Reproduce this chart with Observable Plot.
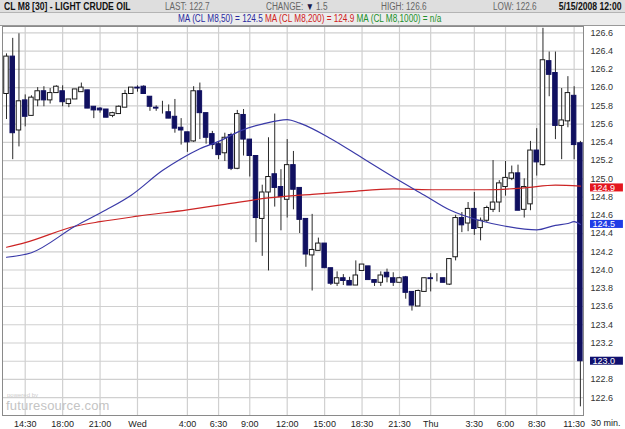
<!DOCTYPE html>
<html><head><meta charset="utf-8">
<script src="https://cdn.jsdelivr.net/npm/d3@7"></script>
<script src="https://cdn.jsdelivr.net/npm/@observablehq/plot@0.6"></script>
<style>
html,body{margin:0;padding:0;background:#fff;}
#wrap{position:relative;width:625px;height:429px;overflow:hidden;font-family:"Liberation Sans",Arial,sans-serif;}
#r1{position:absolute;left:0;top:0;width:625px;height:13px;background:#dedede;border-bottom:1px solid #b4b4b4;box-sizing:border-box;}
#r2{position:absolute;left:0;top:13px;width:625px;height:13px;background:#ececec;border-bottom:1px solid #999;box-sizing:border-box;}
.t{position:absolute;white-space:nowrap;font-size:10px;line-height:12px;display:inline-block;transform:scaleX(0.82);transform-origin:left center;}
.rt{transform-origin:right center;}
.b{font-weight:bold;color:#111;font-size:10.5px;}
.g{color:#666;}
#chart{position:absolute;left:0;top:25px;}
#wm1{position:absolute;left:7px;top:392px;font-size:6px;color:#ccc;}
#wm2{position:absolute;left:6px;top:398px;font-size:13px;color:#c4c4c4;letter-spacing:0.2px;}
#unit{position:absolute;left:591px;top:418px;font-size:9px;line-height:10px;color:#222;}
</style></head>
<body><div id="wrap">
<div id="r1">
 <span class="t b" style="left:4px;top:0px">CL M8 [30] - LIGHT CRUDE OIL</span>
 <span class="t g" style="left:165px;top:1px">LAST: 122.7</span>
 <span class="t g" style="left:266px;top:1px">CHANGE: <span style="color:#1a1a4a">▼</span> 1.5</span>
 <span class="t g" style="left:381px;top:1px">HIGH: 126.6</span>
 <span class="t g" style="left:493px;top:1px">LOW: 122.6</span>
 <span class="t b rt" style="right:4px;top:0px">5/15/2008 12:00</span>
</div>
<div id="r2">
 <span class="t" style="left:178px;top:0px"><span style="color:#2a2aa0">MA (CL M8,50) = 124.5</span> <span style="color:#d02020">MA (CL M8,200) = 124.9</span> <span style="color:#20902a">MA (CL M8,1000) = n/a</span></span>
</div>
<div id="chart"></div>
<div id="wm1">powered by</div>
<div id="wm2">futuresource.com</div>
<div id="unit">30 min.</div>
</div>
<script>
const opens  = [125.93,126.34,125.53,125.86,125.69,125.86,125.96,125.86,125.94,125.96,125.82,125.87,125.95,125.97,125.79,125.77,125.76,125.69,125.71,125.78,125.93,126.00,126.01,125.90,125.78,125.75,125.73,125.68,125.56,125.51,125.41,125.96,125.72,125.49,125.38,125.28,125.48,125.11,125.70,125.43,125.25,124.56,124.85,125.05,124.91,124.77,125.15,124.90,124.56,124.16,124.21,124.29,124.02,123.85,123.91,123.88,123.83,123.99,124.04,123.89,123.86,123.97,123.91,123.86,123.92,123.76,123.60,123.76,123.91,123.91,123.91,123.84,124.14,124.57,124.51,124.67,124.46,124.54,124.66,124.74,124.91,125.00,125.06,124.66,124.72,125.31,125.15,126.29,126.16,125.58,125.63,125.91,125.39];
const highs  = [126.37,126.54,126.59,125.92,125.91,126.00,126.01,125.99,126.02,126.02,125.87,125.98,126.05,125.97,125.79,125.78,125.76,125.73,125.80,125.97,126.00,126.02,126.02,125.90,125.80,125.85,125.81,125.87,125.66,125.51,126.01,126.05,125.72,125.52,125.40,125.50,125.50,125.75,125.76,125.43,125.25,124.93,125.45,125.71,125.10,125.43,125.30,124.90,124.56,124.61,124.35,124.29,124.02,123.98,123.95,123.92,124.10,124.06,124.04,123.89,123.98,124.01,123.97,123.92,123.93,123.76,123.78,123.91,123.96,123.96,123.91,124.12,124.60,124.63,124.74,124.85,124.57,124.70,125.20,124.98,125.19,125.14,125.15,125.00,125.41,125.55,126.65,126.39,126.39,125.99,126.12,126.01,125.41];
const lows   = [125.65,125.21,125.35,125.57,125.69,125.79,125.79,125.82,125.94,125.79,125.78,125.87,125.95,125.77,125.66,125.72,125.67,125.67,125.71,125.78,125.93,125.95,125.93,125.74,125.74,125.71,125.66,125.50,125.37,125.29,125.40,125.43,125.38,125.32,125.21,125.19,125.09,125.10,125.25,125.02,124.30,124.15,123.99,124.69,124.43,124.57,124.66,124.40,124.03,123.77,124.21,124.02,123.83,123.82,123.83,123.83,123.83,123.99,123.89,123.82,123.82,123.86,123.82,123.86,123.68,123.55,123.60,123.76,123.76,123.87,123.86,123.83,124.10,124.41,124.42,124.38,124.32,124.52,124.63,124.63,124.81,124.98,124.65,124.57,124.65,125.03,125.14,125.90,125.43,125.21,125.56,125.21,122.50];
const closes = [126.34,125.50,125.85,125.68,125.89,125.96,125.86,125.94,126.01,125.84,125.87,125.98,126.00,125.77,125.75,125.75,125.67,125.72,125.79,125.93,126.00,125.99,125.93,125.79,125.77,125.75,125.66,125.55,125.53,125.40,125.96,125.72,125.45,125.37,125.26,125.45,125.11,125.71,125.43,125.25,124.57,124.85,125.02,124.90,124.80,125.15,124.88,124.55,124.17,124.22,124.29,124.02,123.85,123.91,123.88,123.83,123.94,124.06,123.89,123.86,123.94,123.92,123.86,123.91,123.75,123.61,123.77,123.91,123.90,123.91,123.86,124.12,124.57,124.49,124.67,124.45,124.54,124.68,124.74,124.95,125.01,125.06,124.65,124.91,125.31,125.18,126.30,126.14,125.58,125.64,125.94,125.37,123.00];

const tickBars   = [4,10,16,22,30,35,40,46,52,58,64,69,76,81,86,92];
const tickLabels = ["14:30","18:00","21:00","Wed","4:00","6:30","9:00","12:00","15:00","18:30","21:30","Thu","3:30","6:00","8:30","11:30"];
const priceTicks = [122.6,122.8,123.0,123.2,123.4,123.6,123.8,124.0,124.2,124.4,124.6,124.8,125.0,125.2,125.4,125.6,125.8,126.0,126.2,126.4,126.6];

const ma50Bars = [1,5,12,17,21,26,29,32,35,39,42,46,48,53,58,63,68,72,77,81,86,89,91,92,93];
const ma50Vals = [124.14,124.19,124.48,124.66,124.82,125.09,125.22,125.33,125.41,125.54,125.60,125.65,125.61,125.44,125.23,125.02,124.82,124.66,124.54,124.48,124.44,124.49,124.51,124.53,124.50];
const ma200Bars = [1,4,12,16,22,30,36,43,50,56,63,70,78,84,89,93];
const ma200Vals = [124.25,124.30,124.48,124.53,124.59,124.66,124.72,124.79,124.83,124.86,124.89,124.88,124.88,124.90,124.93,124.92];

const bars = opens.map((o,k)=>({i:k+1,o,h:highs[k],l:lows[k],c:closes[k]}));
const upBars = bars.filter(d=>d.c>=d.o);
const dnBars = bars.filter(d=>d.c<d.o);
const ma50 = ma50Bars.map((b,k)=>({b,v:ma50Vals[k]}));
const ma200 = ma200Bars.map((b,k)=>({b,v:ma200Vals[k]}));
const r1 = v => Math.round(v*10)/10;
const boxes = [
  {v: r1(ma200Vals[ma200Vals.length-1]), fill:"#e4161e"},
  {v: r1(ma50Vals[ma50Vals.length-1]), fill:"#1e3ce6"},
  {v: r1(closes[closes.length-1]), fill:"#10106e"}
];
// a tick label fully hidden behind a value box is not drawn
const axisTicks = priceTicks.filter(t => !boxes.some(b => Math.abs(b.v - t) < 0.03));
const lbl = new Map(tickBars.map((b,k)=>[b,tickLabels[k]]));
const FONT = '"Liberation Sans",Arial,sans-serif';

const chart = Plot.plot({
  width: 625, height: 404,
  marginLeft: 2, marginRight: 42, marginTop: 1, marginBottom: 14,
  style: {fontFamily: FONT, fontSize: "9px", color: "#222", background: "transparent", overflow: "visible"},
  x: {type: "linear", domain: [0.36, 93.5]},
  y: {domain: [122.405, 126.67]},
  marks: [
    Plot.ruleY(priceTicks, {stroke: "#d0d0d0", strokeWidth: 1.2}),
    Plot.ruleX(tickBars, {stroke: "#d0d0d0", strokeWidth: 1.2}),
    Plot.axisX({ticks: tickBars, tickFormat: d => lbl.get(d), tickSize: 0, tickPadding: 5, fontSize: 9, fill: "#222"}),
    Plot.axisY({anchor: "right", ticks: axisTicks, tickFormat: d3.format(".1f"), tickSize: 0, tickPadding: 7, fontSize: 9, fill: "#333", textAnchor: "start"}),
    Plot.ruleX(bars, {x: "i", y1: "l", y2: "h", stroke: "#2a2a2a", strokeWidth: 1}),
    Plot.rect(upBars, {x1: d=>d.i-0.36, x2: d=>d.i+0.36, y1: "o", y2: "c", fill: "#fff", stroke: "#1a1a1a", strokeWidth: 1}),
    Plot.rect(dnBars, {x1: d=>d.i-0.36, x2: d=>d.i+0.36, y1: "o", y2: "c", fill: "#101060", stroke: "#101060", strokeWidth: 1}),
    Plot.line(ma200, {x: "b", y: "v", stroke: "#cc2424", strokeWidth: 1.2, curve: "monotone-x"}),
    Plot.line(ma50, {x: "b", y: "v", stroke: "#3a3aa8", strokeWidth: 1.2, curve: "monotone-x"}),
    Plot.frame({stroke: "#8a8a8a"}),
    Plot.rect(boxes, {x1: 94.62, x2: 99.9, y1: d=>d.v-0.044, y2: d=>d.v+0.044, fill: "fill"}),
    Plot.text(boxes, {x: 94.95, y: "v", text: d=>d3.format(".1f")(d.v), fill: "#fff", textAnchor: "start", fontSize: 9})
  ]
});
document.getElementById("chart").appendChild(chart);
</script>
</body></html>
